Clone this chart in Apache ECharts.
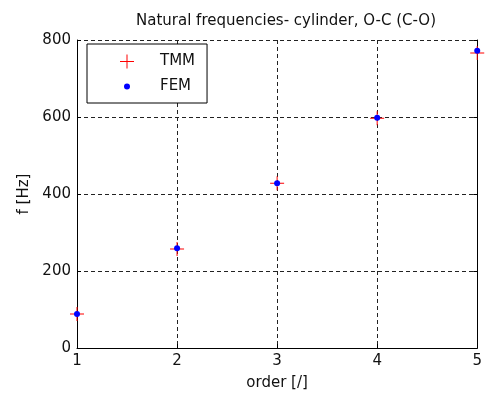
<!DOCTYPE html>
<html>
<head>
<meta charset="utf-8">
<script src="https://cdn.jsdelivr.net/npm/echarts@6/dist/echarts.min.js"></script>
<style>html,body{margin:0;padding:0;background:#fff;}#c{width:485px;height:400px;}</style>
</head>
<body>
<div id="c"></div>
<script>
var titleText = 'Natural frequencies- cylinder, O-C (C-O)';
var xName = 'order [/]';
var yName = 'f [Hz]';
var orders = [1, 2, 3, 4, 5];
var tmm = [88, 257, 428, 597, 766];
var fem = [88, 259, 428, 598, 772];
var seriesNames = ['TMM', 'FEM'];

var FONT = 'DejaVu Sans, sans-serif';
var FS = 15;
var plusPath = 'path://M0,6.5H14V7.5H0Z M6.5,0H7.5V14H6.5Z';
var dotIcon = 'path://M0,0L0,0 M14,14L14,14 M7,4A3,3 0 1 1 7,10A3,3 0 1 1 7,4Z';
var GRID_DASH = [4, 3];

function pairs(xs, ys) { return xs.map(function (x, i) { return [x, ys[i]]; }); }

var chart = echarts.init(document.getElementById('c'), null, {renderer: 'canvas'});
chart.setOption({
  animation: false,
  backgroundColor: '#fff',
  title: {
    text: titleText, left: 281, top: 9, textAlign: 'center',
    textStyle: {fontFamily: FONT, fontSize: FS, fontWeight: 'normal', color: '#111'}
  },
  legend: {
    left: 87, top: 44, orient: 'vertical',
    itemWidth: 56, itemHeight: 14, itemGap: 10,
    padding: [10, 12, 9, 33],
    borderColor: '#000', borderWidth: 1, backgroundColor: '#fff',
    textStyle: {fontFamily: FONT, fontSize: FS, color: '#111'},
    data: [
      {name: seriesNames[0], icon: plusPath},
      {name: seriesNames[1], icon: dotIcon}
    ]
  },
  grid: {left: 77, right: 3, top: 40, bottom: 52},
  xAxis: {
    type: 'value', min: 1, max: 5, interval: 1,
    name: xName, nameLocation: 'middle', nameGap: 28,
    nameTextStyle: {fontFamily: FONT, fontSize: FS, color: '#111'},
    axisLine: {show: true, onZero: false, lineStyle: {color: '#000', width: 1}},
    axisTick: {show: true, inside: true, length: 4, lineStyle: {color: '#000'}},
    axisLabel: {fontFamily: FONT, fontSize: FS, color: '#111', margin: 6},
    splitLine: {show: true, lineStyle: {color: '#222', type: GRID_DASH, width: 1}}
  },
  yAxis: [{
    type: 'value', min: 0, max: 800, interval: 200,
    name: yName, nameLocation: 'middle', nameGap: 45,
    nameTextStyle: {fontFamily: FONT, fontSize: FS, color: '#111'},
    axisLine: {show: true, onZero: false, lineStyle: {color: '#000', width: 1}},
    axisTick: {show: true, inside: true, length: 4, lineStyle: {color: '#000'}},
    axisLabel: {fontFamily: FONT, fontSize: FS, color: '#111', margin: 6},
    splitLine: {show: true, lineStyle: {color: '#222', type: GRID_DASH, width: 1}}
  }, {
    type: 'value', min: 0, max: 800, interval: 200, position: 'right',
    axisLine: {show: true, onZero: false, lineStyle: {color: '#000', width: 1}},
    axisTick: {show: true, inside: true, length: 4, lineStyle: {color: '#000'}},
    axisLabel: {show: false},
    splitLine: {show: false}
  }],
  series: [{
    name: seriesNames[0], type: 'scatter', data: pairs(orders, tmm),
    symbol: plusPath, symbolSize: 14, symbolKeepAspect: true,
    itemStyle: {color: '#ff0000', opacity: 1}, z: 3
  }, {
    name: seriesNames[1], type: 'scatter', data: pairs(orders, fem),
    symbol: 'circle', symbolSize: 6,
    itemStyle: {color: '#0000ff', opacity: 1}, z: 4
  }]
});
</script>
</body>
</html>
